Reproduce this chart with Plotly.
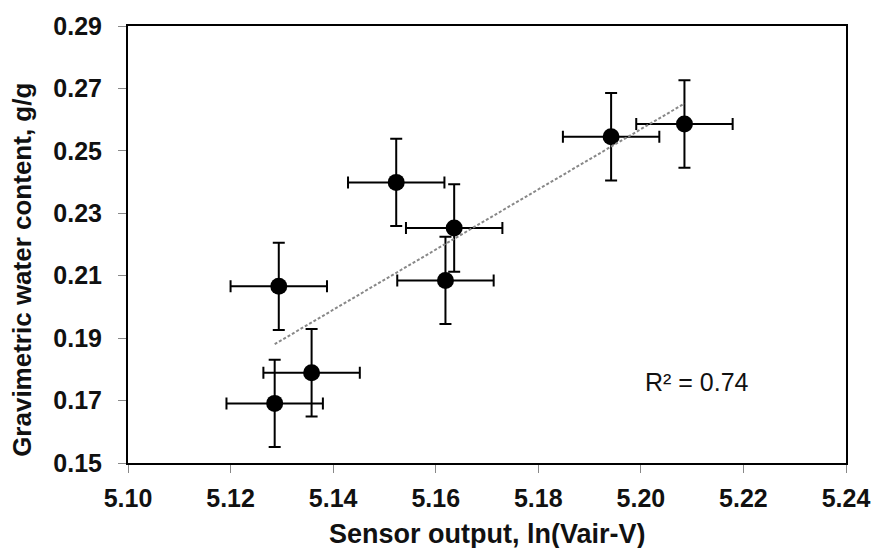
import numpy as np
import plotly.graph_objects as go

# Data
sensor_output = [5.1294, 5.1358, 5.1286, 5.1523, 5.1636, 5.1619, 5.1942, 5.2085]
water_content = [0.2066, 0.1789, 0.1691, 0.2399, 0.2253, 0.2085, 0.2545, 0.2586]
x_error = [0.0094] * 8
y_error = [0.014] * 8

x_ticks = [5.10, 5.12, 5.14, 5.16, 5.18, 5.20, 5.22, 5.24]
y_ticks = [0.15, 0.17, 0.19, 0.21, 0.23, 0.25, 0.27, 0.29]
r2_label = "R² = 0.74"
x_title = "Sensor output, ln(Vair-V)"
y_title = "Gravimetric water content, g/g"

FONT = "Liberation Sans, Arial, sans-serif"

# linear trendline from data
slope, intercept = np.polyfit(sensor_output, water_content, 1)
tx = [min(sensor_output), max(sensor_output)]
ty = [slope * v + intercept for v in tx]

fig = go.Figure()
fig.add_trace(go.Scatter(
    x=sensor_output, y=water_content, mode="markers",
    marker=dict(color="black", size=17),
    error_x=dict(type="data", array=x_error, visible=True, color="black", thickness=2, width=6),
    error_y=dict(type="data", array=y_error, visible=True, color="black", thickness=2, width=6),
    showlegend=False,
))
fig.add_trace(go.Scatter(
    x=tx, y=ty, mode="lines",
    line=dict(color="#888888", width=2, dash="3px,2px"),
    showlegend=False,
))

fig.add_annotation(x=5.211, y=0.1759, xref="x", yref="y", text=r2_label,
                   showarrow=False, font=dict(family=FONT, size=25, color="#111"))
fig.add_annotation(x=0.5, y=-0.162, xref="paper", yref="paper", text="<b>%s</b>" % x_title,
                   showarrow=False, xanchor="center", yanchor="middle",
                   font=dict(family=FONT, size=27, color="#111"))
fig.add_annotation(x=-0.147, y=0.443, xref="paper", yref="paper", text="<b>%s</b>" % y_title,
                   showarrow=False, textangle=-90, xanchor="center", yanchor="middle",
                   font=dict(family=FONT, size=26, color="#111"))

axis_common = dict(
    showgrid=False, zeroline=False, showline=True, linecolor="black", linewidth=2,
    mirror=True, ticks="outside", ticklen=8, tickcolor="#888888", tickwidth=1,
    tickfont=dict(family=FONT, size=25, color="#111", weight="bold"),
)
fig.update_xaxes(range=[5.10, 5.24], tickvals=x_ticks, ticklabelstandoff=4,
                 ticktext=["%.2f" % v for v in x_ticks], **axis_common)
fig.update_yaxes(range=[0.15, 0.29], tickvals=y_ticks, ticklabelstandoff=11,
                 ticktext=["%.2f" % v for v in y_ticks], **axis_common)

fig.update_layout(
    width=882, height=548,
    margin=dict(l=128, r=26, t=25, b=85),
    plot_bgcolor="white", paper_bgcolor="white",
    font=dict(family=FONT),
)

fig.write_html("out.html", config={"displayModeBar": False},
               post_script="document.body.style.margin='0';")
